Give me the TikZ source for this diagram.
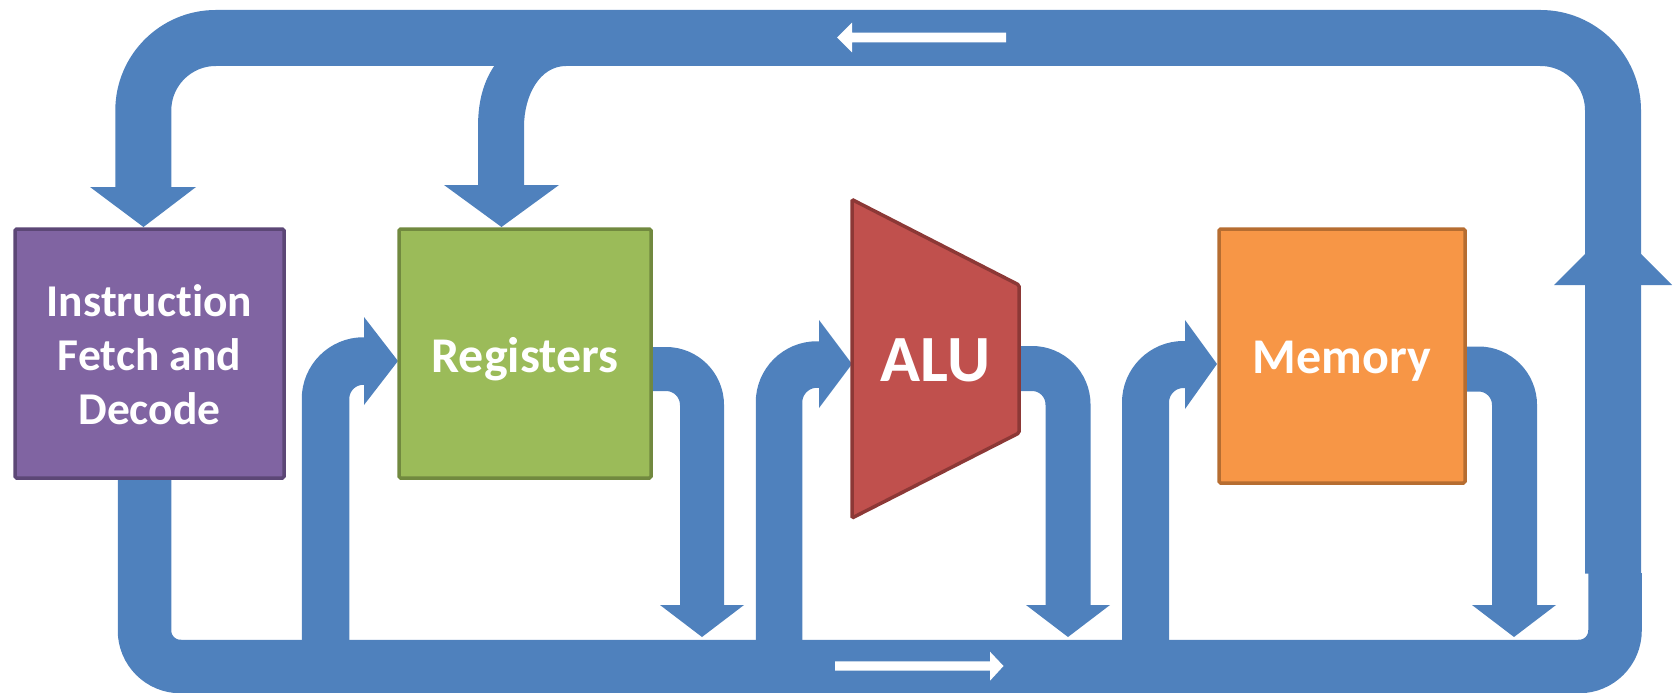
\documentclass[tikz,border=0pt]{standalone}
\usepackage{fontspec}
\setmainfont{Carlito}[Ligatures=NoCommon]

\definecolor{flow}{HTML}{4F81BD}
\definecolor{ifdfill}{HTML}{8064A2}
\definecolor{ifdline}{HTML}{5C4776}
\definecolor{regfill}{HTML}{9BBB59}
\definecolor{regline}{HTML}{71893F}
\definecolor{alufill}{HTML}{C0504D}
\definecolor{aluline}{HTML}{8C3836}
\definecolor{memfill}{HTML}{F79646}
\definecolor{memline}{HTML}{B66D31}

\tikzset{
  band/.style={draw=flow, line cap=butt, line join=miter},
  head/.style={fill=flow},
  dirmark/.style={fill=white},
  unit/.style={line width=3.5pt, rounded corners=1.5pt, inner sep=0pt, outer sep=0pt},
  lbl/.style={text=white, inner sep=0pt, align=center,
    font=\bfseries\fontsize{45.5}{54}\selectfont},
  midlbl/.style={text=white, inner sep=0pt,
    font=\bfseries\fontsize{50}{60}\selectfont},
  biglbl/.style={text=white, inner sep=0pt,
    font=\bfseries\fontsize{66}{74}\selectfont}
}

\begin{document}
\begin{tikzpicture}[x=1pt,y=-1pt]
\useasboundingbox (0,0) rectangle (1673,693);

% named anchor points of the flow paths
\coordinate (botL)  at (144.5,440);
\coordinate (botR)  at (1615,573);
\coordinate (topR)  at (1613,573.5);
\coordinate (topL)  at (143.3,188);

% lower return bus
\draw[band, line width=53.5pt, rounded corners=36pt]
  (botL) -- (144.5,666.5) -- (1615,666.5) -- (botR);

% upper feedback bus
\draw[band, line width=56pt, rounded corners=72.5pt]
  (topR) -- (1613,38) -- (143.3,38) -- (topL);
\fill[head] (90,187) -- (196,187) -- (143.5,227) -- cycle;

% branch down to the register file
\fill[head] (478,188) -- (478,127) .. controls (478,98) and (485,78) .. (497,62)
  -- (497,40) -- (580,40) -- (566,66)
  .. controls (540,66) and (524,95) .. (524,127) -- (524,188) -- cycle;
\fill[head] (444,185) -- (559,185) -- (501.5,227) -- cycle;

% upward head on the right side
\fill[head] (1554,285) -- (1613,226) -- (1672,285) -- cycle;

% outputs of each stage onto the lower bus
\draw[band, line width=44pt, rounded corners=36pt]
  (630,369) -- (702,369) -- (702,606);
\fill[head] (660,605) -- (744,605) -- (702,637) -- cycle;
\draw[band, line width=45pt, rounded corners=36pt]
  (995,368.5) -- (1068,368.5) -- (1068,606);
\fill[head] (1026,605) -- (1110,605) -- (1068,637) -- cycle;
\draw[band, line width=45pt, rounded corners=36pt]
  (1440,369) -- (1514.5,369) -- (1514.5,606);
\fill[head] (1472,605) -- (1556,605) -- (1514,637) -- cycle;

% inputs of each stage from the lower bus
\draw[band, line width=47.5pt, rounded corners=38pt]
  (325.5,650) -- (325.5,361) -- (365,361);
\fill[head] (364,317) -- (398,361) -- (364,405) -- cycle;
\draw[band, line width=46.5pt, rounded corners=38pt]
  (779,650) -- (779,364.5) -- (820,364.5);
\fill[head] (819,320) -- (852,364) -- (819,408) -- cycle;
\draw[band, line width=47pt, rounded corners=38pt]
  (1145.5,650) -- (1145.5,364.5) -- (1186,364.5);
\fill[head] (1185,320) -- (1217,364) -- (1185,409) -- cycle;

% direction marks on the buses
\fill[dirmark] (1006,32.7) -- (852,32.7) -- (852,22.7) -- (837,37.5)
  -- (852,52.3) -- (852,42.3) -- (1006,42.3) -- cycle;
\fill[dirmark] (835,661.3) -- (990,661.3) -- (990,651.7) -- (1003.5,666)
  -- (990,680.7) -- (990,670.7) -- (835,670.7) -- cycle;

% pipeline units
\node[unit, draw=ifdline, fill=ifdfill, minimum width=269pt, minimum height=249pt]
  (ifd) at (149.5,353.5) {};
\node[unit, draw=regline, fill=regfill, minimum width=252pt, minimum height=249pt]
  (reg) at (525,353.5) {};
\draw[unit, draw=aluline, fill=alufill]
  (852,199.5) -- (1019,285) -- (1019,433) -- (852,518) -- cycle;
\node[unit, draw=memline, fill=memfill, minimum width=246pt, minimum height=254pt]
  (mem) at (1342,356) {};

% labels
\node[lbl] (ifdtext) at (149.5,355) {Instruction\\Fetch and\\Decode};
\node[midlbl, anchor=base] (regtext) at (525,372) {Registers};
\node[biglbl, anchor=base] (alutext) at (935.5,381.7) {ALU};
\node[midlbl, anchor=base] (memtext) at (1342,373) {Memory};
\end{tikzpicture}
\end{document}
